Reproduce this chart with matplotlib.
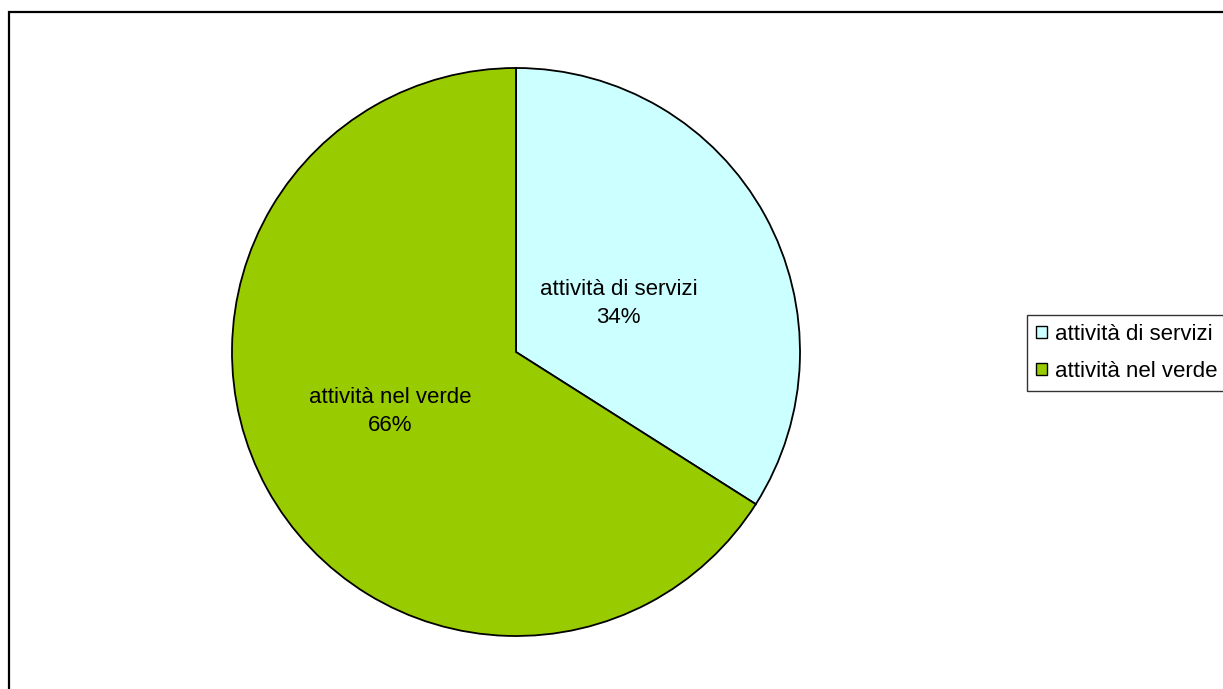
import matplotlib
matplotlib.use("Agg")
import matplotlib.pyplot as plt
from matplotlib.patches import Rectangle
import numpy as np

plt.rcParams['font.family'] = ['Liberation Sans', 'DejaVu Sans']

# dati
categorie = ['attività di servizi', 'attività nel verde']
valori = [34, 66]
colori = ['#CCFFFF', '#99CC00']

W, H = 1223, 689
fig = plt.figure(figsize=(W / 100, H / 100), dpi=100)

# cornice esterna (tagliata a destra e in basso)
fig.patches.append(Rectangle((9 / W, -0.05), 1.1, 1 - 11.5 / H + 0.05,
                             transform=fig.transFigure, fill=False,
                             edgecolor='black', linewidth=1.6))

cx, cy, r = 516, 352, 284
ax = fig.add_axes([(cx - r) / W, 1 - (cy + r) / H, 2 * r / W, 2 * r / H])

wedges, testi, pct = ax.pie(
    valori, colors=colori, startangle=90, counterclock=False, radius=1,
    autopct='%1.0f%%', pctdistance=0.46, labeldistance=None,
    wedgeprops=dict(edgecolor='black', linewidth=1.3),
)
# posizione delle etichette come in Excel
dist = [0.40, 0.49]
for w, t, nome, d in zip(wedges, pct, categorie, dist):
    ang = np.deg2rad((w.theta1 + w.theta2) / 2 - 3.5)
    t.set_position((d * np.cos(ang), d * np.sin(ang)))
    t.set_text(nome + '\n' + t.get_text())
    t.set_fontsize(16)
    t.set_linespacing(1.45)
    t.set_ha('center')
    t.set_va('center')
ax.set_xlim(-1, 1)
ax.set_ylim(-1, 1)
ax.set_aspect('equal')
ax.axis('off')

leg = fig.legend(wedges, categorie, loc='upper left',
                 bbox_to_anchor=(1027 / W, 1 - 315 / H),
                 bbox_transform=fig.transFigure, borderaxespad=0,
                 fontsize=16, frameon=True, fancybox=False, shadow=False,
                 handlelength=0.5, handleheight=0.5, handletextpad=0.35,
                 borderpad=0.4, labelspacing=0.72)
leg.get_frame().set_edgecolor('black')
leg.get_frame().set_linewidth(1.0)
for h in leg.legend_handles:
    h.set_linewidth(1.0)

fig.savefig('out.png', dpi=100)
